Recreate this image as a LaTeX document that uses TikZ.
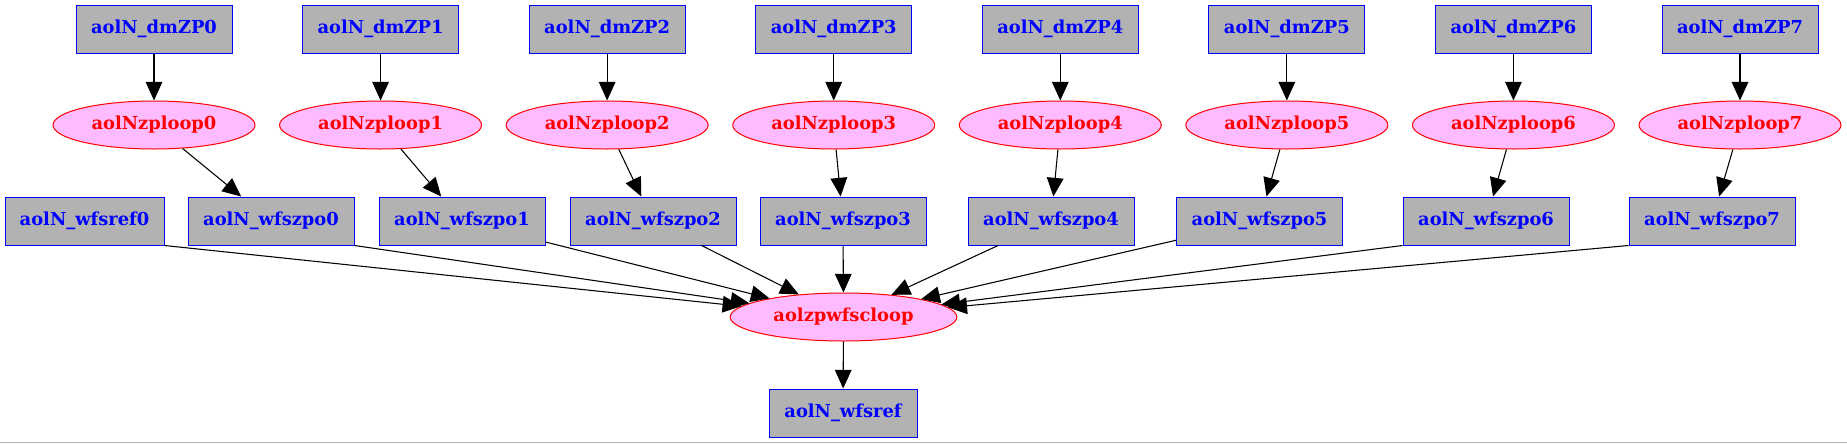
\documentclass[tikz,border=0pt]{standalone}
\usepackage{fontspec}
\setmainfont{DejaVu Serif}
\usetikzlibrary{shapes.geometric,arrows.meta}
\definecolor{boxgray}{RGB}{178,178,178}
\definecolor{loopfill}{RGB}{255,187,255}
\tikzset{
	proc/.style={draw=blue, line width=0.75pt, fill=boxgray, text=blue, inner sep=0pt,
		minimum height=36pt, font=\bfseries\fontsize{13.4}{15}\selectfont},
	loopnode/.style={ellipse, draw=red, line width=0.75pt, fill=loopfill, text=red, inner sep=0pt,
		minimum height=36pt, minimum width=151.5pt, font=\bfseries\fontsize{13.4}{15}\selectfont},
	flow/.style={-{Triangle[length=14pt,width=12.5pt]}, line width=0.8pt}
}
\begin{document}
\begin{tikzpicture}[x=0.75pt,y=-0.75pt]
	\useasboundingbox (0,0) rectangle (1847,443);
	% top two rows
	\foreach \i in {0,...,7} {
		\node[proc, minimum width=117pt] (dmzp\i) at ({154+226.57*\i},29) {aolN\_dmZP\i};
		\node[loopnode] (zploop\i) at ({154+226.57*\i},125) {aolNzploop\i};
	}
	% middle row
	\node[proc, minimum width=119.25pt] (wfsref0) at (84.5,221) {aolN\_wfsref0};
	\foreach \i/\x in {0/271,1/462,2/653,3/843,4/1051,5/1259.5,6/1486,7/1712}
		\node[proc, minimum width=124.5pt] (wfszpo\i) at (\x,221) {aolN\_wfszpo\i};
	% bottom
	\node[loopnode, minimum width=170pt] (zpwfscloop) at (843.5,317) {aolzpwfscloop};
	\node[proc, minimum width=111pt] (wfsref) at (843,413) {aolN\_wfsref};

	\foreach \i in {0,...,7} {
		\draw[flow] (dmzp\i) -- (zploop\i);
		\draw[flow] (zploop\i) -- (wfszpo\i);
	}
	\draw[flow] (wfsref0.south east) -- (zpwfscloop);
	\draw[flow] (wfszpo0.south east) -- (zpwfscloop);
	\foreach \i in {1,...,5}
		\draw[flow] (wfszpo\i) -- (zpwfscloop);
	\draw[flow] (wfszpo6.south west) -- (zpwfscloop);
	\draw[flow] (wfszpo7.south west) -- (zpwfscloop);
	\draw[flow] (zpwfscloop) -- (wfsref);
	\draw[gray!60, line width=0.75pt] (0,442) -- (1847,442);
\end{tikzpicture}
\end{document}
